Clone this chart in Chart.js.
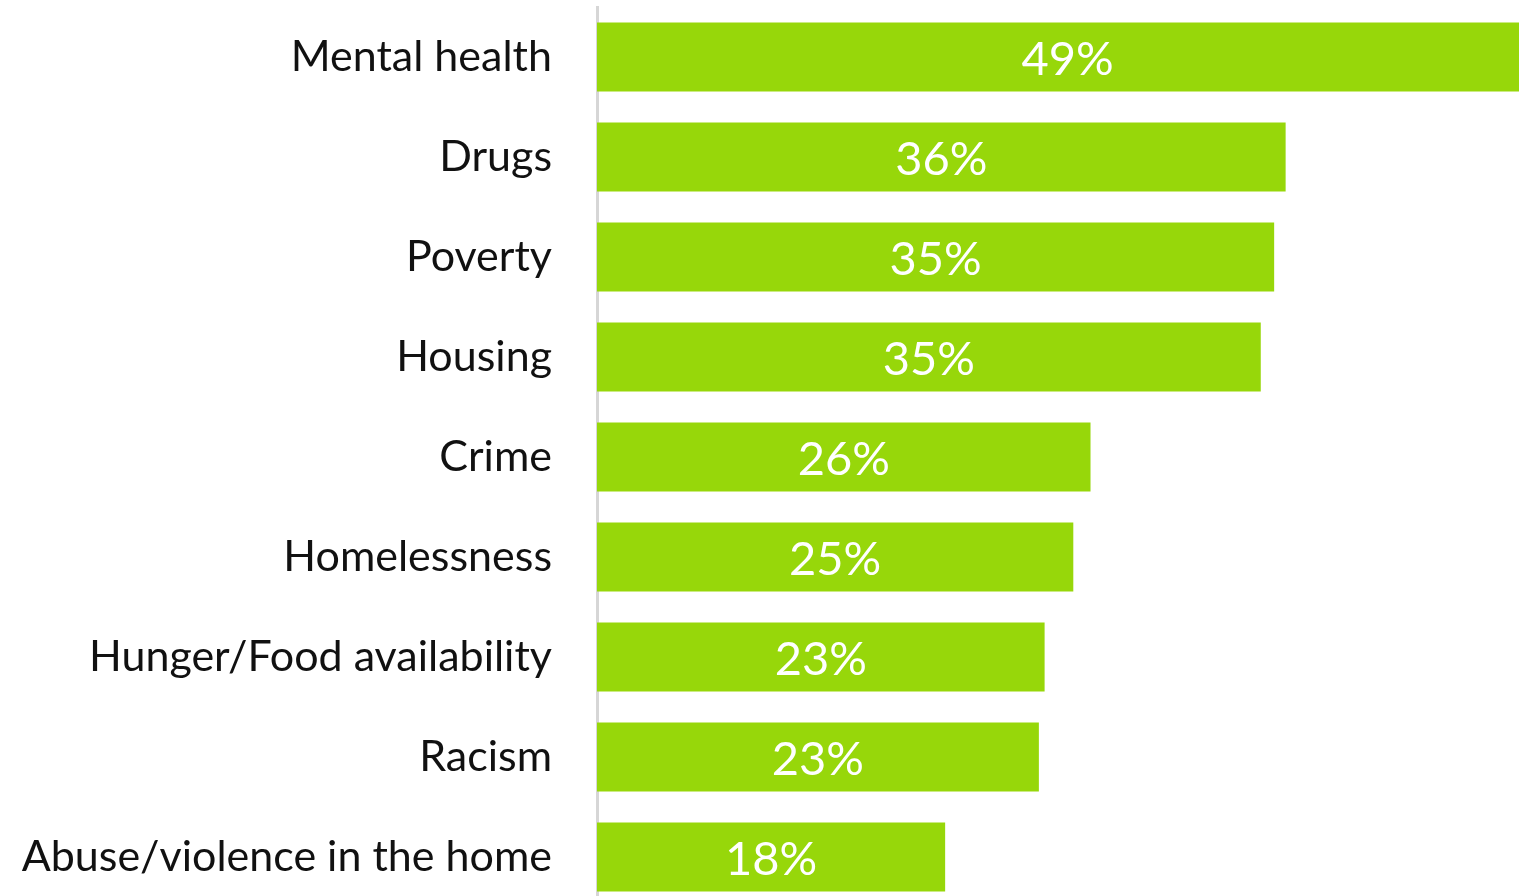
<!DOCTYPE html>
<html>
<head>
<meta charset="utf-8">
<script src="https://cdn.jsdelivr.net/npm/chart.js@4"></script>
<style>
    html, body { margin: 0; padding: 0; background: #fff; overflow: hidden; }
    #wrap { width: 1519px; height: 907px; }
</style>
</head>
<body>
<div id="wrap"><canvas id="issues-chart"></canvas></div>
<script>
const categories = [
    'Mental health',
    'Drugs',
    'Poverty',
    'Housing',
    'Crime',
    'Homelessness',
    'Hunger/Food availability',
    'Racism',
    'Abuse/violence in the home'
];
const percentValues = [49.2, 36.0, 35.4, 34.7, 25.8, 24.9, 23.4, 23.1, 18.2];

const barColor = '#97d70a';

// draws the white % labels in the middle of each bar
const barLabels = {
    id: 'barLabels',
    afterDatasetsDraw(chart) {
        const ctx = chart.ctx;
        const meta = chart.getDatasetMeta(0);
        ctx.save();
        ctx.fillStyle = '#ffffff';
        ctx.font = '400 47px Lato';
        ctx.textAlign = 'center';
        ctx.textBaseline = 'middle';
        meta.data.forEach((bar, i) => {
            const cx = (bar.x + bar.base) / 2;
            ctx.fillText(Math.round(percentValues[i]) + '%', cx, bar.y + 3);
        });
        ctx.restore();
    }
};

new Chart(document.getElementById('issues-chart'), {
    type: 'bar',
    data: {
        labels: categories,
        datasets: [{
            data: percentValues,
            backgroundColor: barColor,
            borderWidth: 0,
            categoryPercentage: 1,
            barPercentage: 0.69
        }]
    },
    options: {
        indexAxis: 'y',
        responsive: true,
        maintainAspectRatio: false,
        animation: false,
        layout: { padding: { top: 7, right: 0, bottom: 0, left: 0 } },
        plugins: {
            legend: { display: false },
            tooltip: { enabled: false }
        },
        scales: {
            x: {
                display: false,
                min: 0,
                max: 48.2
            },
            y: {
                afterFit(scale) {
                    scale.width = 597;
                    scale.paddingTop = 0;
                    scale.paddingBottom = 0;
                },
                grid: { display: false, drawTicks: false },
                border: { display: true, color: '#d6d6d6', width: 3 },
                ticks: {
                    color: '#111111',
                    padding: 45,
                    font: { family: 'Lato', size: 43 }
                }
            }
        }
    },
    plugins: [barLabels]
});
</script>
</body>
</html>
